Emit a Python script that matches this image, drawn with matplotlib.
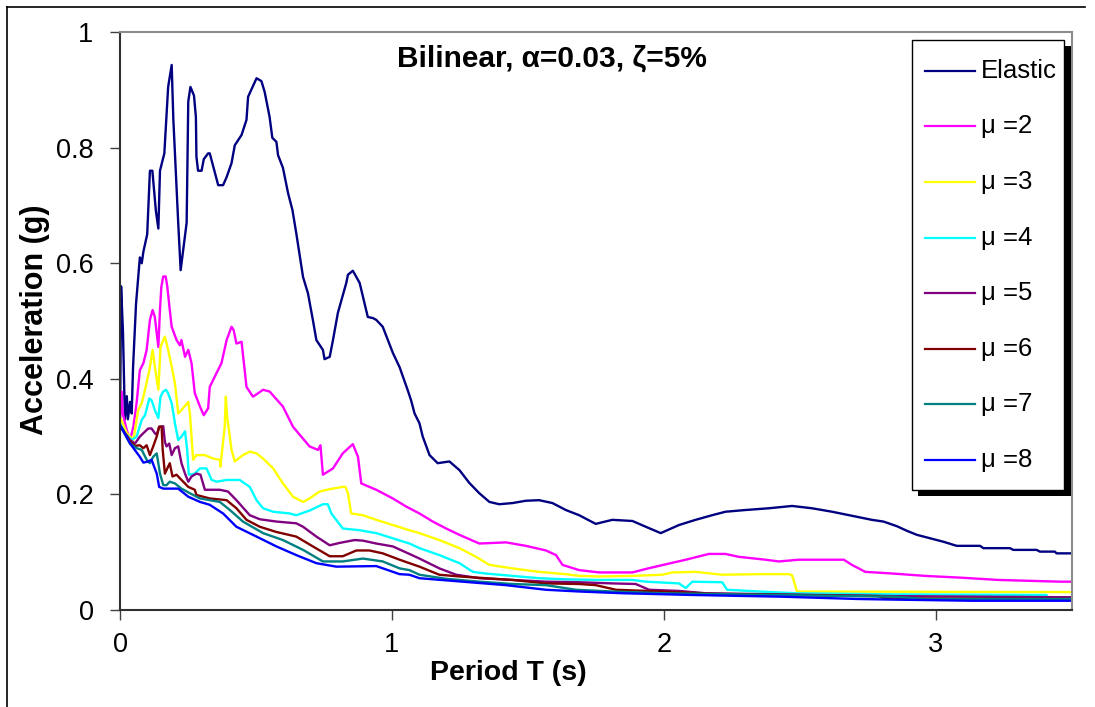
import matplotlib
matplotlib.use('Agg')
import matplotlib.pyplot as plt
from matplotlib.patches import Rectangle
from matplotlib.lines import Line2D

plt.rcParams['font.family'] = ['Liberation Sans', 'DejaVu Sans']

# spectral data, period (s) vs acceleration (g)
T_el = [0, .004, .011, .015, .018, .025, .029, .037, .043, .048, .059, .073, .080, .086, .100, .110, .119,
        .132, .141, .147, .163, .169, .177, .190, .196, .214, .223, .245, .251, .259, .272, .279, .281, .287,
        .300, .308, .324, .330, .349, .361, .379, .392, .410, .422, .447, .465, .471, .502, .520, .532, .550,
        .560, .575, .581, .599, .618, .634, .648, .673, .691, .709, .722, .746, .752, .771, .783, .801, .807,
        .832, .838, .856, .881, .899, .911, .930, .942, .966, 1.003, 1.028, 1.058, 1.070, 1.083, 1.101, 1.113,
        1.138, 1.168, 1.211, 1.248, 1.284, 1.321, 1.358, 1.394, 1.443, 1.492, 1.541, 1.590, 1.639, 1.688,
        1.749, 1.810, 1.884, 1.933, 1.988, 2.055, 2.116, 2.177, 2.226, 2.300, 2.385, 2.471, 2.544, 2.618,
        2.691, 2.764, 2.807, 2.856, 2.893, 2.930, 2.979, 3.028, 3.076, 3.162, 3.174, 3.272, 3.284, 3.370,
        3.382, 3.437, 3.443, 3.5]
A_el = [.32, .56, .48, .39, .33, .37, .33, .36, .34, .42, .53, .61, .60, .62, .65, .76, .76,
        .69, .66, .76, .79, .84, .905, .943, .85, .67, .588, .67, .88, .905, .89, .853, .784, .76,
        .76, .78, .79, .79, .756, .735, .735, .749, .773, .804, .822, .848, .888, .92, .915, .896, .853,
        .817, .81, .787, .765, .721, .692, .652, .576, .548, .502, .467, .45, .434, .438, .467, .514, .524,
        .566, .58, .587, .566, .531, .507, .505, .502, .49, .445, .42, .38, .363, .34, .323, .30,
        .268, .254, .257, .242, .22, .202, .187, .183, .185, .189, .19, .185, .173, .164,
        .149, .156, .154, .144, .133, .147, .156, .164, .17, .173, .176, .18, .176, .17,
        .163, .156, .153, .145, .137, .13, .124, .118, .111, .111, .107, .107, .104, .104,
        .101, .101, .098, .098]

T_m2 = [0, .006, .010, .025, .037, .049, .061, .073, .086, .098, .110, .120, .128, .141, .147, .152, .159,
        .168, .174, .183, .190, .208, .220, .226, .239, .251, .263, .275, .294, .308, .324, .330, .355, .373,
        .392, .410, .418, .428, .447, .465, .489, .526, .550, .599, .636, .697, .728, .737, .746, .783, .819,
        .856, .875, .887, .942, 1.003, 1.052, 1.101, 1.150, 1.199, 1.248, 1.321, 1.419, 1.492, 1.566, 1.603,
        1.627, 1.688, 1.761, 1.884, 1.933, 2.006, 2.080, 2.165, 2.226, 2.275, 2.373, 2.422, 2.495, 2.661,
        2.691, 2.740, 2.844, 2.960, 3.089, 3.229, 3.456, 3.5]
A_m2 = [.33, .378, .34, .311, .294, .317, .358, .415, .427, .45, .502, .519, .507, .455, .52, .559, .577,
        .577, .559, .519, .49, .467, .458, .467, .438, .45, .427, .375, .352, .337, .349, .386, .41, .427,
        .467, .49, .484, .461, .464, .386, .369, .381, .378, .352, .317, .283, .277, .285, .234, .245, .271,
        .287, .265, .219, .208, .193, .179, .167, .153, .141, .13, .115, .117, .111, .103, .095,
        .078, .069, .065, .065, .071, .079, .087, .097, .097, .092, .087, .084, .087, .087,
        .078, .066, .063, .059, .056, .052, .049, .049]

T_m3 = [0, .025, .049, .067, .080, .092, .108, .120, .128, .141, .149, .159, .165, .177, .190, .202, .214,
        .226, .251, .257, .269, .281, .312, .342, .367, .369, .385, .389, .394, .410, .422, .452, .477, .502,
        .526, .563, .599, .636, .673, .697, .734, .771, .819, .829, .838, .850, .893, .942, 1.003, 1.064,
        1.101, 1.174, 1.248, 1.309, 1.358, 1.443, 1.541, 1.639, 1.688, 1.761, 1.884, 1.994, 2.030, 2.116,
        2.214, 2.349, 2.459, 2.471, 2.489, 3.5]
A_m3 = [.334, .306, .294, .346, .358, .381, .415, .45, .421, .381, .455, .467, .473, .45, .421, .392, .34,
        .346, .36, .34, .26, .268, .268, .262, .26, .248, .317, .369, .334, .277, .257, .268, .274, .271,
        .262, .245, .219, .196, .187, .193, .205, .209, .213, .213, .202, .167, .164, .156, .147, .138,
        .133, .121, .107, .092, .078, .072, .066, .062, .059, .058, .059, .061, .065, .066,
        .061, .062, .062, .06, .032, .031]

T_m4 = [0, .018, .043, .061, .080, .092, .108, .116, .128, .141, .149, .159, .169, .177, .190, .202, .214,
        .226, .239, .247, .253, .275, .294, .318, .337, .355, .392, .440, .477, .502, .526, .563, .624, .648,
        .697, .746, .764, .777, .819, .881, .942, 1.003, 1.064, 1.101, 1.174, 1.248, 1.297, 1.346, 1.443,
        1.541, 1.639, 1.749, 1.884, 1.933, 2.055, 2.080, 2.104, 2.214, 2.232, 2.349, 2.483, 2.844, 3.406,
        3.41, 3.5]
A_m4 = [.323, .306, .294, .30, .329, .337, .366, .363, .346, .332, .369, .378, .381, .375, .358, .323, .294,
        .30, .309, .277, .234, .236, .245, .245, .225, .222, .225, .225, .213, .19, .176, .17, .167, .164,
        .172, .183, .183, .167, .141, .138, .133, .124, .115, .107, .095, .081, .066, .063, .059,
        .055, .053, .052, .052, .049, .046, .038, .049, .048, .035, .032, .029, .027, .026,
        .022, .022]

T_m5 = [0, .037, .055, .073, .086, .104, .116, .128, .135, .144, .159, .165, .171, .181, .190, .202, .214,
        .226, .239, .251, .263, .281, .296, .312, .367, .397, .428, .477, .514, .575, .648, .673, .722, .771,
        .807, .862, .893, .942, 1.003, 1.064, 1.101, 1.174, 1.236, 1.321, 1.443, 1.566, 1.688, 1.810, 1.896,
        1.945, 2.055, 2.153, 2.844, 3.5]
A_m5 = [.318, .294, .288, .30, .306, .314, .314, .306, .303, .317, .318, .291, .283, .288, .268, .28, .283,
        .254, .236, .222, .231, .236, .234, .208, .208, .205, .19, .164, .157, .153, .15, .144, .127, .112,
        .116, .121, .12, .115, .11, .097, .089, .072, .061, .055, .052, .049, .048, .046, .045,
        .035, .033, .029, .024, .022]

T_m6 = [0, .037, .055, .073, .086, .098, .110, .122, .135, .144, .153, .157, .165, .177, .183, .193, .208,
        .226, .251, .275, .281, .330, .392, .428, .465, .514, .575, .648, .709, .771, .819, .869, .917, .966,
        1.028, 1.064, 1.101, 1.174, 1.248, 1.443, 1.566, 1.688, 1.749, 1.823, 1.994, 2.177, 2.789, 2.81, 3.5]
A_m6 = [.32, .291, .284, .285, .28, .285, .268, .283, .30, .317, .317, .277, .236, .248, .254, .231, .234,
        .225, .213, .208, .199, .193, .19, .176, .156, .144, .135, .127, .11, .093, .093, .103, .103, .098,
        .087, .081, .075, .061, .058, .052, .046, .045, .043, .035, .032, .028, .024, .020, .019]

T_m7 = [0, .037, .061, .080, .098, .110, .122, .135, .147, .159, .171, .183, .202, .226, .257, .294, .367,
        .404, .452, .526, .599, .673, .746, .819, .893, .966, 1.028, 1.064, 1.101, 1.199, 1.321, 1.443,
        1.566, 1.676, 1.810, 1.994, 2.422, 2.844, 2.96, 3.5]
A_m7 = [.32, .288, .28, .277, .26, .254, .265, .271, .236, .216, .216, .222, .219, .21, .202, .193, .187,
        .173, .153, .133, .121, .104, .084, .084, .089, .084, .072, .069, .061, .054, .049, .045,
        .043, .035, .032, .029, .026, .023, .019, .019]

T_m8 = [0, .037, .073, .086, .104, .116, .135, .144, .159, .214, .251, .294, .330, .379, .428, .502, .575,
        .648, .722, .795, .942, 1.028, 1.064, 1.101, 1.260, 1.419, 1.566, 1.688, 1.847, 2.104, 2.434, 2.716,
        2.844, 3.13, 3.5]
A_m8 = [.32, .288, .265, .255, .257, .26, .236, .213, .21, .21, .196, .187, .182, .167, .144, .127, .11,
        .095, .081, .075, .076, .062, .061, .055, .049, .043, .035, .032, .029, .026, .023, .019,
        .018, .016, .016]

labels = ['Elastic', 'μ =2', 'μ =3', 'μ =4', 'μ =5', 'μ =6', 'μ =7', 'μ =8']
colors = ['#000080', '#FF00FF', '#FFFF00', '#00FFFF', '#800080', '#800000', '#008080', '#0000FF']
series = [(T_el, A_el), (T_m2, A_m2), (T_m3, A_m3), (T_m4, A_m4),
          (T_m5, A_m5), (T_m6, A_m6), (T_m7, A_m7), (T_m8, A_m8)]

W, H = 1095, 707
fig = plt.figure(figsize=(W / 100, H / 100), dpi=100)
ax = fig.add_axes([120 / W, 1 - 610 / H, (1072 - 120) / W, (610 - 32) / H])

for (t, a), c in zip(series, colors):
    ax.plot(t, a, color=c, lw=1.7)

ax.set_xlim(0, 3.5)
ax.set_ylim(0, 1)
ax.set_xticks([0, 1, 2, 3])
ax.set_xticklabels(['0', '1', '2', '3'])
ax.set_yticks([0, 0.2, 0.4, 0.6, 0.8, 1])
ax.set_yticklabels(['0', '0.2', '0.4', '0.6', '0.8', '1'])
ax.tick_params(axis='both', direction='out', length=7, width=1, color='#404040', labelsize=19.5)
ax.tick_params(axis='y', pad=12)
ax.tick_params(axis='x', pad=9)
for s in ['left', 'bottom']:
    ax.spines[s].set_color('#303030')
    ax.spines[s].set_linewidth(1.5)
for s in ['top', 'right']:
    ax.spines[s].set_color('#8c8c8c')
    ax.spines[s].set_linewidth(1.5)


def px(x, y):
    return x / W, 1 - y / H


# titles / labels
fig.text(*px(552, 67), 'Bilinear, α=0.03, ζ=5%', fontsize=21.5, fontweight='bold',
         ha='center', va='baseline')
fig.text(*px(508, 680), 'Period T (s)', fontsize=20.5, fontweight='bold', ha='center', va='baseline')
fig.text(*px(35, 320), 'Acceleration (g)', fontsize=22, fontweight='bold', rotation=90,
         ha='center', va='center')

# legend box with black drop shadow
fig.add_artist(Rectangle(px(918, 496), 153 / W, 450 / H, transform=fig.transFigure,
                         facecolor='black', edgecolor='none', zorder=5))
fig.add_artist(Rectangle(px(912, 490), 152 / W, 450 / H, transform=fig.transFigure,
                         facecolor='white', edgecolor='black', lw=1, zorder=6))
for i, (lab, c) in enumerate(zip(labels, colors)):
    yy = 70.7 + 55.6 * i
    x0, y0 = px(925, yy)
    x1, _ = px(975, yy)
    fig.add_artist(Line2D([x0, x1], [y0, y0], color=c, lw=1.6, transform=fig.transFigure, zorder=7))
    fig.text(*px(981, yy), lab, fontsize=18.5, ha='left', va='center', zorder=7)

# outer chart border (left and top)
fig.add_artist(Line2D([7 / W, 7 / W], [0, 1 - 7 / H], color='black', lw=1.2, transform=fig.transFigure))
fig.add_artist(Line2D([7 / W, 1085 / W], [1 - 7 / H, 1 - 7 / H], color='black', lw=1.2,
                      transform=fig.transFigure))

fig.savefig('out.png', dpi=100)
